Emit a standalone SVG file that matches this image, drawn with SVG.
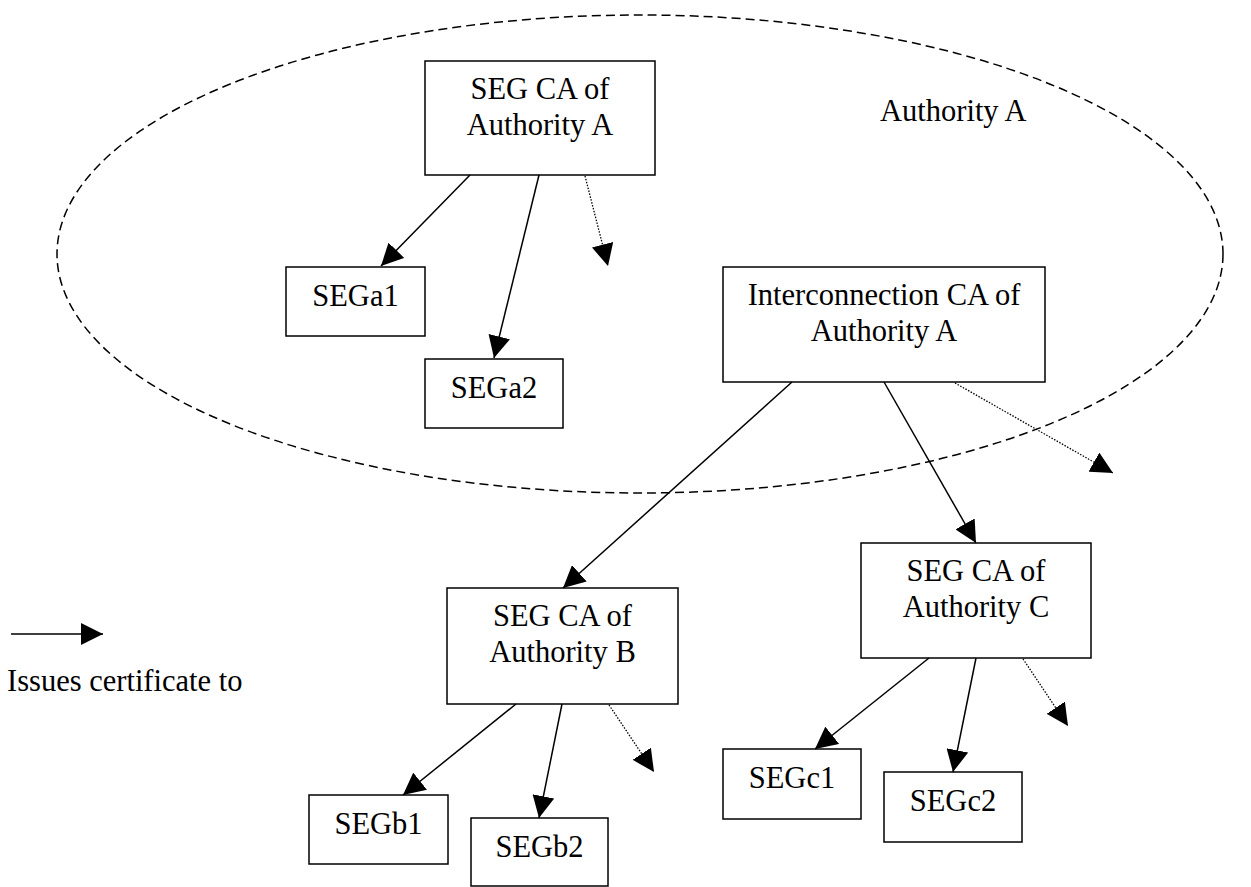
<svg xmlns="http://www.w3.org/2000/svg" width="1251" height="887" viewBox="0 0 1251 887">
<style>
.box{fill:#fff;stroke:#000;stroke-width:1.5}
.t{font-family:"Liberation Serif","Times New Roman",serif;font-size:30.5px;fill:#000;text-anchor:middle}
.tl{font-family:"Liberation Serif","Times New Roman",serif;font-size:30.5px;fill:#000}
.solid{stroke:#000;stroke-width:1.5;fill:none;marker-end:url(#ah)}
.dot{stroke:#000;stroke-width:1.3;fill:none;stroke-dasharray:1.5 1.5;marker-end:url(#ah)}
</style>
<defs>
<marker id="ah" markerUnits="userSpaceOnUse" markerWidth="22" markerHeight="22" viewBox="0 0 20 20" refX="20" refY="10" orient="auto">
<path d="M0,0 L20,10 L0,20 Z" fill="#000"/>
</marker>
</defs>
<rect width="1251" height="887" fill="#fff"/>
<g id="authority-a">
<ellipse cx="640" cy="254" rx="583" ry="239" fill="none" stroke="#000" stroke-width="1.5" stroke-dasharray="9 5"/>
<text class="tl" x="880" y="121">Authority A</text>
</g>
<g id="seg-ca-a"><rect class="box" x="425" y="61" width="230" height="114"/><text class="t" x="540" y="99">SEG CA of</text><text class="t" x="540" y="135">Authority A</text></g>
<g id="sega1"><rect class="box" x="286" y="267" width="139" height="69"/><text class="t" x="355.5" y="306">SEGa1</text></g>
<g id="sega2"><rect class="box" x="425" y="359" width="138" height="69"/><text class="t" x="494" y="398">SEGa2</text></g>
<g id="ic-ca-a"><rect class="box" x="723" y="267" width="322" height="115"/><text class="t" x="884" y="305">Interconnection CA of</text><text class="t" x="884" y="341">Authority A</text></g>
<g id="seg-ca-b"><rect class="box" x="447" y="588" width="231" height="116"/><text class="t" x="562.5" y="626">SEG CA of</text><text class="t" x="562.5" y="662">Authority B</text></g>
<g id="segb1"><rect class="box" x="309" y="795" width="139" height="69"/><text class="t" x="378.5" y="834">SEGb1</text></g>
<g id="segb2"><rect class="box" x="471" y="818" width="137" height="68"/><text class="t" x="539.5" y="857">SEGb2</text></g>
<g id="seg-ca-c"><rect class="box" x="861" y="543" width="230" height="115"/><text class="t" x="976" y="581">SEG CA of</text><text class="t" x="976" y="617">Authority C</text></g>
<g id="segc1"><rect class="box" x="723" y="749" width="138" height="70"/><text class="t" x="792" y="788">SEGc1</text></g>
<g id="segc2"><rect class="box" x="884" y="772" width="138" height="70"/><text class="t" x="953" y="811">SEGc2</text></g>
<g id="legend"><line class="solid" x1="11" y1="634" x2="103" y2="634"/><text class="tl" x="7" y="691">Issues certificate to</text></g>
<g id="connectors">
<line class="solid" x1="470" y1="175" x2="381" y2="266"/>
<line class="solid" x1="539" y1="175" x2="494" y2="358"/>
<line class="dot" x1="585" y1="176" x2="608" y2="266"/>
<line class="solid" x1="792" y1="382" x2="563" y2="588"/>
<line class="solid" x1="884" y1="382" x2="976" y2="543"/>
<line class="dot" x1="955" y1="383" x2="1113" y2="473"/>
<line class="solid" x1="516" y1="704" x2="403" y2="795"/>
<line class="solid" x1="562" y1="704" x2="539" y2="818"/>
<line class="dot" x1="609" y1="705" x2="654" y2="772"/>
<line class="solid" x1="929" y1="658" x2="815" y2="749"/>
<line class="solid" x1="976" y1="658" x2="953" y2="772"/>
<line class="dot" x1="1023" y1="659" x2="1068" y2="726"/>
</g>
</svg>
